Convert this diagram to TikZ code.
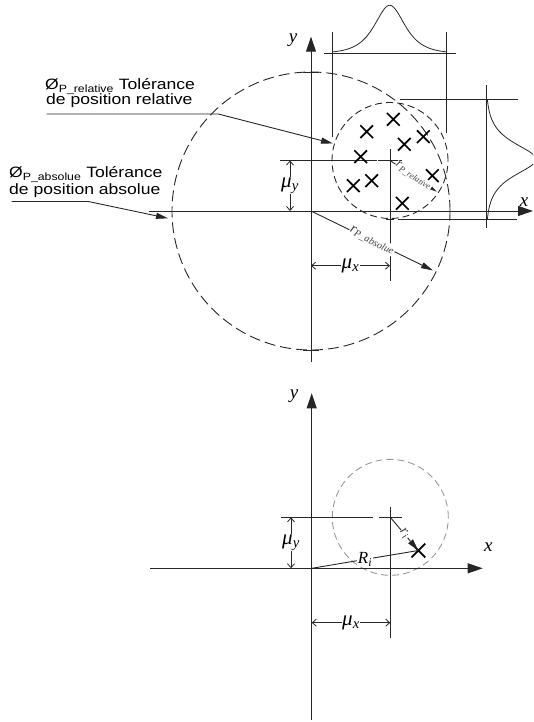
\documentclass[tikz,border=0pt]{standalone}
\usepackage{fontspec}
\setmainfont{Liberation Sans}
\newfontfamily\calloutfont[FakeStretch=1.17]{Liberation Sans}
\newfontfamily\timesfont{Liberation Serif}
\usetikzlibrary{arrows.meta,shapes.misc}

\tikzset{
  guide/.style={draw=black!85, line width=0.8pt},
  axis/.style={draw=black!85, line width=1pt, -{Triangle[length=15pt,width=10pt]}},
  bigcircle/.style={draw=black!85, line width=0.9pt, dash pattern=on 11pt off 5pt},
  smallcircle/.style={draw=black!85, line width=0.9pt, dash pattern=on 7pt off 4pt},
  ghostcircle/.style={draw=black!40, line width=0.9pt, dash pattern=on 7pt off 4pt},
  leader/.style={draw=black!85, line width=0.9pt, -{Triangle[length=12pt,width=6pt]}},
  radarrow/.style={draw=black!85, line width=0.9pt, -{Triangle[length=12pt,width=6pt]}},
  dimarrow/.style={draw=black!85, line width=0.8pt, {Straight Barb[length=4pt,width=7pt]}-{Straight Barb[length=4pt,width=7pt]}},
  xmark/.style={cross out, draw=black, line width=1.7pt, minimum size=11pt, inner sep=0pt},
  lbl/.style={font={\calloutfont\fontsize{15}{15}\selectfont}, inner sep=0pt},
  mathlbl/.style={font={\timesfont\itshape\fontsize{19}{19}\selectfont}, inner sep=1pt},
  dimlbl/.style={font={\timesfont\itshape\fontsize{21}{21}\selectfont}, fill=white, inner sep=0.5pt},
  rlabel/.style={font={\timesfont\itshape\fontsize{14.5}{14.5}\selectfont}, text=black!75, fill=white, inner sep=0.5pt},
}

\begin{document}
\begin{tikzpicture}[x=1pt,y=-1pt]
\useasboundingbox (0,0) rectangle (533,722);
\clip (0,0) rectangle (533,722);

% upper diagram: absolute and relative tolerance zones
\coordinate (O) at (311,211);
\coordinate (C) at (390,160.5);
\coordinate (xL) at (149,211);
\coordinate (xR) at (533,211);
\coordinate (yB) at (311,362);
\coordinate (yT) at (311,36.7);

% projections and distributions
\draw[guide] (324,53.3) -- (455.7,53.3);
\draw[guide] (332.7,31.7) -- (332.7,137);
\draw[guide] (446.7,31.7) -- (446.7,133);
\draw[guide] plot[domain=332.7:446.7, samples=100] (\x, {53.3-96/(exp((\x-389.7)/13.5)+exp((389.7-\x)/13.5))});
\draw[guide] (486,85) -- (486,228);
\draw[guide] (400,99.3) -- (518,99.3);
\draw[guide] (398,219.3) -- (517,219.3);
\draw[guide] plot[domain=99.3:219.3, samples=100] ({486+100/(exp((\x-159.3)/14)+exp((159.3-\x)/14))}, \x);

\draw[bigcircle] (O) circle[radius=139pt];
\draw[smallcircle] (C) circle[radius=58pt];
\draw[guide] (303,72) -- (319,72);
\draw[guide] (303,350) -- (319,350);
\draw[guide] (386,219) -- (394,219);

\draw[axis] (xL) -- (xR);
\draw[axis] (yB) -- (yT);
\node[mathlbl] (xlab) at (524,202) {x};
\node[mathlbl] (ylab) at (293,40) {y};

% centre of the relative zone
\draw[guide] (280,160.5) -- (376.5,160.5);
\draw[guide] (378,160.5) -- (401.5,160.5);
\draw[guide] (390,149) -- (390,281);

\coordinate (myT) at (290,160.5);
\coordinate (myB) at (290,211);
\draw[dimarrow] (myT) -- node[dimlbl] {μ\textsubscript{y}} (myB);
\coordinate (mxL) at (311,265.7);
\coordinate (mxR) at (390,265.7);
\draw[dimarrow] (mxL) -- node[dimlbl] {μ\textsubscript{x}} (mxR);

% measured positions
\node[xmark] (p1) at (393.3,119.3) {};
\node[xmark] (p2) at (366.7,131.7) {};
\node[xmark] (p3) at (423.3,136.7) {};
\node[xmark] (p4) at (404.3,144.3) {};
\node[xmark] (p5) at (360.7,156.7) {};
\node[xmark] (p6) at (432.3,175.7) {};
\node[xmark] (p7) at (371.7,180.7) {};
\node[xmark] (p8) at (353.3,185.7) {};
\node[xmark] (p9) at (402.3,203.3) {};

% radii
\coordinate (absEnd) at (433,270.5);
\draw[radarrow] (O) -- node[rlabel, sloped] {r\textsubscript{P\_absolue}} (absEnd);
\coordinate (relEnd) at (436.7,191.7);
\draw[radarrow] (C) -- node[rlabel, sloped, font={\timesfont\itshape\fontsize{12.5}{12.5}\selectfont}] {r\textsubscript{P\_relative}} (relEnd);

% callouts
\node[lbl, anchor=base west] (relLine1) at (45,90) {Ø\textsubscript{P\_relative} Tolérance};
\node[lbl, anchor=base west] (relLine2) at (46,105) {de position relative};
\coordinate (relA) at (46.7,114);
\coordinate (relB) at (218.3,114);
\coordinate (relTip) at (333,143.5);
\draw[leader] (relA) -- (relB) -- (relTip);

\node[lbl, anchor=base west] (absLine1) at (9,177.5) {Ø\textsubscript{P\_absolue} Tolérance};
\node[lbl, anchor=base west] (absLine2) at (9,194) {de position absolue};
\coordinate (absA) at (11.7,201.5);
\coordinate (absB) at (88.3,201.5);
\coordinate (absTip) at (168,218.3);
\draw[leader] (absA) -- (absB) -- (absTip);

% lower diagram: one measured point
\coordinate (O2) at (311.7,568.3);
\coordinate (C2) at (390.3,517.3);
\coordinate (xL2) at (150,568.3);
\coordinate (xR2) at (482.7,568.3);
\coordinate (yB2) at (311.7,720);
\coordinate (yT2) at (311.7,393.3);

\draw[ghostcircle] (C2) circle[radius=58pt];
\draw[axis] (xL2) -- (xR2);
\draw[axis] (yB2) -- (yT2);
\node[mathlbl] (xlab2) at (488.3,546.7) {x};
\node[mathlbl] (ylab2) at (294,396) {y};

\draw[guide] (281,517.3) -- (373,517.3);
\draw[guide] (379,517.3) -- (401.7,517.3);
\draw[guide] (390.3,506.7) -- (390.3,638);

\coordinate (myT2) at (291,517.3);
\coordinate (myB2) at (291,568.3);
\draw[dimarrow] (myT2) -- node[dimlbl] {μ\textsubscript{y}} (myB2);
\coordinate (mxL2) at (311.7,622.7);
\coordinate (mxR2) at (390.3,622.7);
\draw[dimarrow] (mxL2) -- node[dimlbl] {μ\textsubscript{x}} (mxR2);

\node[xmark, line width=1.8pt, minimum size=12pt] (pi) at (418.3,550.5) {};
\draw[guide, line width=0.9pt] (O2) -- node[mathlbl, fill=white, inner sep=0.5pt, font={\timesfont\itshape\fontsize{17}{17}\selectfont}] {R\textsubscript{i}} (pi.center);
\draw[radarrow] (C2) -- node[rlabel, sloped] {r\textsubscript{i}} (pi.center);
\end{tikzpicture}
\end{document}
